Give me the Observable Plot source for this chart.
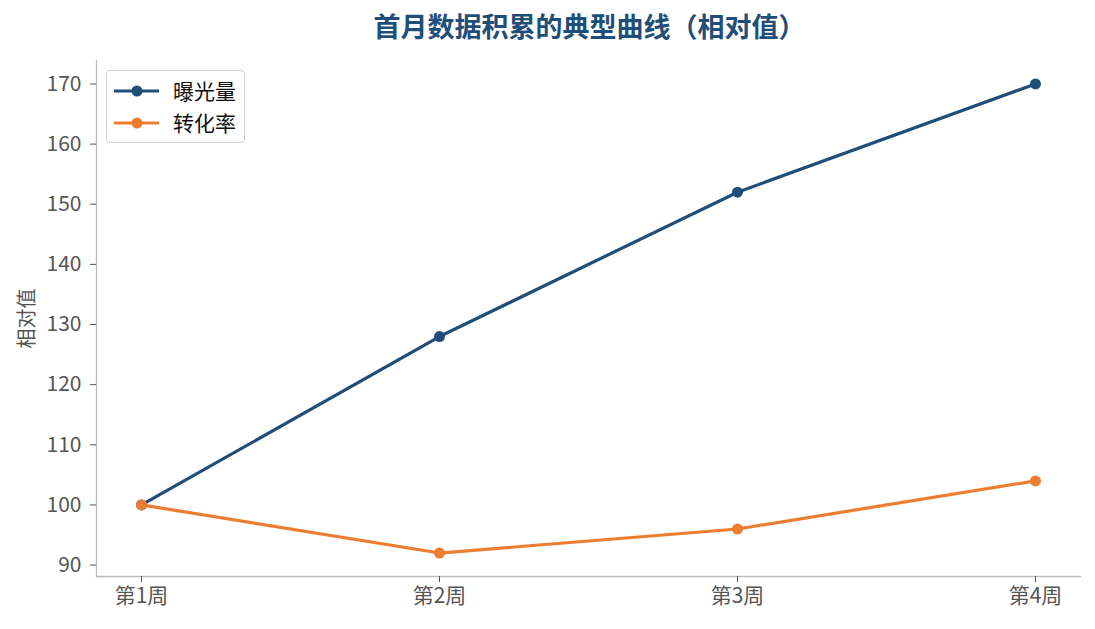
<!DOCTYPE html>
<html><head><meta charset="utf-8">
<script src="https://cdn.jsdelivr.net/npm/d3@7"></script>
<script src="https://cdn.jsdelivr.net/npm/@observablehq/plot@0.6"></script>
<style>
body{margin:0;background:#fff;font-family:"Noto Sans CJK SC","Noto Sans",sans-serif;}
#wrap{position:relative;width:1095px;height:629px;}
#title{position:absolute;left:0;top:0;width:1179px;height:50px;line-height:52px;text-align:center;font-size:27px;font-weight:bold;color:#1f4e79;}
#chart{position:absolute;left:0;top:50px;}
#legend{position:absolute;left:106px;top:70px;width:137px;height:71px;border:1px solid #d0d0d0;border-radius:4px;background:#fff;font-size:21px;color:#111;}
.row{position:absolute;left:0;height:20px;}
.row svg{position:absolute;left:0;top:0;}
.row span{position:absolute;left:66px;top:-6px;line-height:30px;white-space:nowrap;}
</style></head>
<body>
<div id="wrap">
<div id="title">首月数据积累的典型曲线（相对值）</div>
<div id="chart"></div>
<div id="legend"></div>
</div>
<script>
const weeks = ["第1周","第2周","第3周","第4周"];
const seriesNames = ["曝光量","转化率"];
const exposure = [100,128,152,170];
const conversion = [100,92,96,104];
const colors = ["#1f4e79","#ed7d31"];
const yTicks = [90,100,110,120,130,140,150,160,170];

const data = [];
weeks.forEach((w,i)=>{
  data.push({week:w, series:seriesNames[0], value:exposure[i]});
  data.push({week:w, series:seriesNames[1], value:conversion[i]});
});

const plot = Plot.plot({
  width:1095, height:579,
  marginLeft:96, marginRight:15, marginTop:10, marginBottom:53,
  style:{fontFamily:'"Noto Sans CJK SC","Noto Sans",sans-serif', fontSize:"21px", color:"#555", background:"#fff"},
  x:{type:"point", domain:weeks, padding:0.15, label:null},
  y:{domain:[88.1,173.9], label:null},
  color:{domain:seriesNames, range:colors},
  marks:[
    Plot.frame({anchor:"left", stroke:"#bbb", strokeWidth:1.3}),
    Plot.frame({anchor:"bottom", stroke:"#bbb", strokeWidth:1.3}),
    Plot.axisY({ticks:yTicks, tickSize:6, tickPadding:9, stroke:"#555", fontSize:21, label:null}),
    Plot.axisX({tickSize:6, tickPadding:6, stroke:"#555", fontSize:21, label:null}),
    Plot.text(["相对值"],{frameAnchor:"left", textAnchor:"middle", dx:-69, rotate:-90, fontSize:20, fill:"#555"}),
    Plot.lineY(data,{x:"week", y:"value", stroke:"series", strokeWidth:3.2}),
    Plot.dot(data,{x:"week", y:"value", fill:"series", r:5.5})
  ]
});
document.getElementById("chart").appendChild(plot);

const legend = document.getElementById("legend");
seriesNames.forEach((n,i)=>{
  const row = document.createElement("div");
  row.className="row";
  row.style.top = (10 + i*32) + "px";
  row.style.width="137px";
  row.innerHTML = `<svg width="60" height="20"><line x1="7" x2="52" y1="10" y2="10" stroke="${colors[i]}" stroke-width="3.2"/><circle cx="30" cy="10" r="5.5" fill="${colors[i]}"/></svg><span>${n}</span>`;
  legend.appendChild(row);
});
</script>
</body></html>
